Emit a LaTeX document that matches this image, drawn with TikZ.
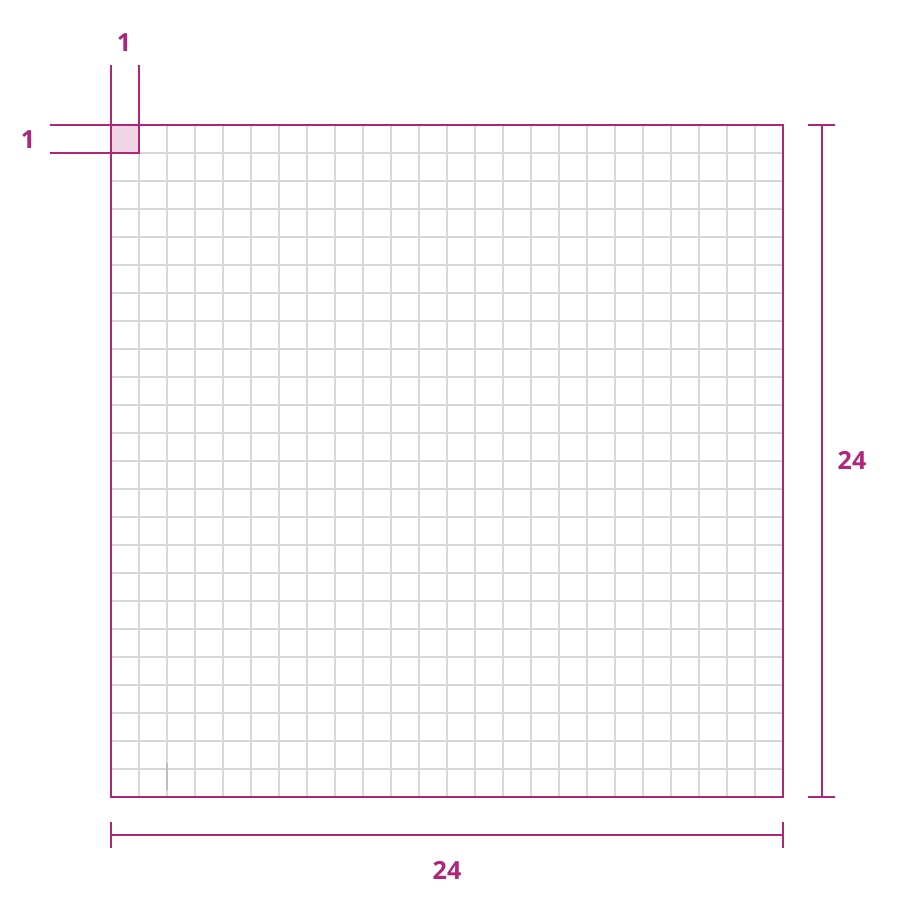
\documentclass[tikz,border=0pt]{standalone}
\usepackage{fontspec}
\setmainfont{Open Sans}
\definecolor{mag}{RGB}{176,36,122}
\definecolor{gridgray}{RGB}{216,216,216}
\definecolor{cellpink}{RGB}{240,213,229}
\begin{document}
\begin{tikzpicture}[x=1pt,y=-1pt,
  magline/.style={draw=mag,line width=2.7pt},
  dimline/.style={draw=mag,line width=2pt},
  gridline/.style={draw=gridgray,line width=2pt},
  dimlabel/.style={text=mag,font=\bfseries\fontsize{25}{25}\selectfont,inner sep=0pt}]
\useasboundingbox (0,0) rectangle (900,900);
% corner cell fill
\fill[cellpink] (111,125) rectangle (139,153);
% grid
\foreach \i in {1,...,23} {
  \draw[gridline] ({111+28*\i},125) -- ({111+28*\i},797);
  \draw[gridline] (111,{125+28*\i}) -- (783,{125+28*\i});
}
\draw[draw=gridgray!88!black,line width=1.5pt] (167,763) -- (167,790);
% square outline
\coordinate (tl) at (111,125);
\coordinate (br) at (783,797);
\draw[magline] (tl) rectangle (br);
% unit cell markers
\coordinate (a1) at (111,65);
\coordinate (a2) at (139,65);
\coordinate (a3) at (139,153);
\coordinate (b1) at (50,125);
\coordinate (b2) at (50,153);
\draw[dimline] (a1) -- (tl);
\draw[dimline] (a2) -- (a3);
\draw[dimline] (b1) -- (tl);
\draw[dimline] (b2) -- (a3);
\draw[magline] (111,153) -- (139,153) -- (139,125);
\node[dimlabel] (l1) at (124,43) {1};
\node[dimlabel] (l2) at (28,140) {1};
% right dimension
\coordinate (r1) at (822,125);
\coordinate (r2) at (822,797);
\draw[dimline] (r1) -- (r2);
\draw[dimline] (808,125) -- (835,125);
\draw[dimline] (808,797) -- (835,797);
\node[dimlabel] (l3) at (852,460) {24};
% bottom dimension
\coordinate (d1) at (111,835);
\coordinate (d2) at (783,835);
\draw[dimline] (d1) -- (d2);
\draw[dimline] (111,822) -- (111,848);
\draw[dimline] (783,822) -- (783,848);
\node[dimlabel] (l4) at (447,870) {24};
\end{tikzpicture}
\end{document}
